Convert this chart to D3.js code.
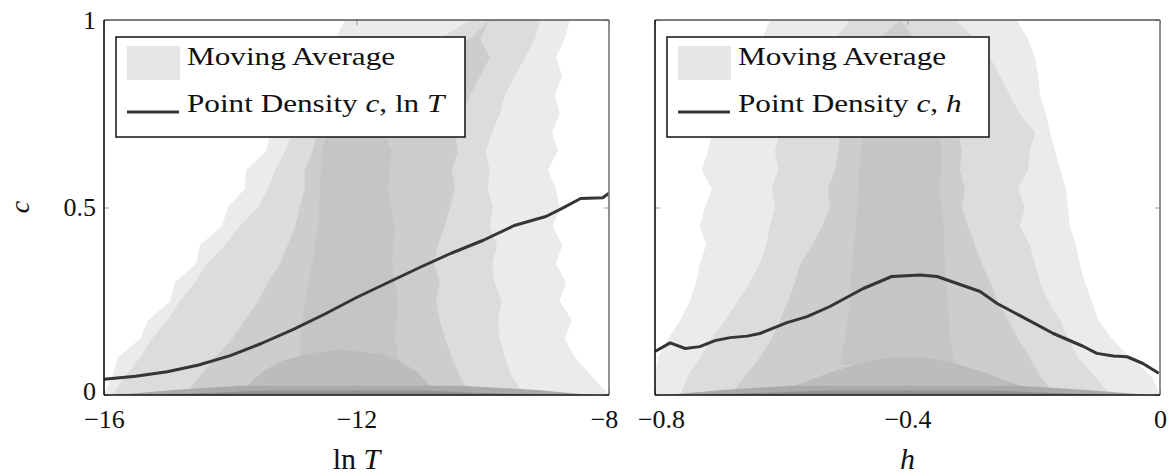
<!DOCTYPE html>
<html>
<head>
<meta charset="utf-8">
<script src="https://cdn.jsdelivr.net/npm/d3@7"></script>
<style>
  body { margin: 0; background: #fff; }
  text { font-family: "Liberation Serif", "Times New Roman", serif; fill: #111; }
</style>
</head>
<body>
<svg id="chart" width="1172" height="476"></svg>
<script>
// ---------------- data ----------------
// shared rows (c values) for the outer density bands
const cRows = [0, 0.05, 0.1, 0.15, 0.2, 0.25, 0.3, 0.35, 0.4, 0.45, 0.5, 0.55, 0.6, 0.65, 0.7, 0.75, 0.8, 0.85, 0.9, 0.95, 1.0];

// ln T panel: band boundaries (ln T) per row
const lnTBand1Lo = [-16.0, -15.87, -15.78, -15.43, -15.30, -14.95, -14.88, -14.54, -14.48, -14.13, -14.04, -13.77, -13.75, -13.43, -13.37, -13.13, -12.97, -12.74, -12.58, -12.34, -12.18];
const lnTBand1Hi = [-8.0, -8.27, -8.54, -8.70, -8.59, -8.78, -8.68, -8.84, -8.74, -8.89, -8.78, -8.84, -8.97, -8.81, -8.90, -8.78, -8.86, -8.74, -8.84, -8.70, -8.62];
const lnTBand2Lo = [-15.87, -15.67, -15.43, -15.24, -14.99, -14.80, -14.56, -14.37, -14.08, -13.85, -13.56, -13.40, -13.29, -13.13, -13.02, -12.74, -12.42, -11.94, -11.31, -10.68, -10.20];
const lnTBand2Hi = [-9.33, -9.54, -9.65, -9.73, -9.76, -9.70, -9.81, -9.85, -9.77, -9.89, -9.84, -9.92, -9.89, -9.95, -9.85, -9.73, -9.65, -9.49, -9.33, -9.17, -9.09];
const lnTBand3Lo = [-14.72, -14.48, -14.24, -13.97, -13.77, -13.56, -13.40, -13.21, -13.09, -12.97, -12.90, -12.82, -12.82, -12.70, -12.61, -12.26, -11.79, -11.31, -10.84, -10.20, -9.89];
const lnTBand3Hi = [-10.20, -10.36, -10.49, -10.60, -10.68, -10.74, -10.68, -10.77, -10.71, -10.60, -10.52, -10.44, -10.49, -10.39, -10.44, -10.33, -10.20, -10.04, -9.89, -10.04, -9.89];
const lnTCoreRows = [0.08, 0.15, 0.25, 0.35, 0.45, 0.55, 0.65, 0.72];
const lnTCoreLo = [-12.90, -12.90, -12.82, -12.70, -12.61, -12.58, -12.55, -12.42];
const lnTCoreHi = [-11.31, -11.39, -11.34, -11.44, -11.39, -11.50, -11.44, -11.63];
const lnTMoundRows = [0, 0.03, 0.06, 0.09, 0.11, 0.12];
const lnTMoundLo = [-13.88, -13.69, -13.50, -13.21, -12.74, -12.37];
const lnTMoundHi = [-10.60, -10.87, -11.03, -11.31, -11.63, -12.18];
const stripRows = [0, 0.013, 0.025];
const stripRowsInner = [0, 0.006, 0.012];
const lnTStripLo = [-15.83, -14.95, -13.85];
const lnTStripHi = [-8.30, -9.09, -10.36];
const lnTStripInnerLo = [-15.27, -14.32, -13.37];
const lnTStripInnerHi = [-9.09, -10.04, -10.99];

// h panel: band boundaries (h) per row
const hBand1Lo = [-0.800, -0.800, -0.795, -0.779, -0.760, -0.745, -0.735, -0.729, -0.719, -0.729, -0.721, -0.710, -0.726, -0.716, -0.710, -0.697, -0.681, -0.665, -0.650, -0.630, -0.618];
const hBand1Hi = [0, -0.013, -0.048, -0.076, -0.098, -0.108, -0.119, -0.127, -0.133, -0.143, -0.146, -0.149, -0.158, -0.166, -0.174, -0.181, -0.190, -0.193, -0.198, -0.209, -0.227];
const hBand2Lo = [-0.760, -0.748, -0.729, -0.710, -0.689, -0.669, -0.650, -0.634, -0.624, -0.618, -0.610, -0.615, -0.605, -0.610, -0.602, -0.586, -0.570, -0.554, -0.539, -0.515, -0.491];
const hBand2Hi = [-0.079, -0.103, -0.130, -0.146, -0.158, -0.177, -0.190, -0.198, -0.206, -0.222, -0.214, -0.225, -0.209, -0.206, -0.198, -0.222, -0.238, -0.253, -0.269, -0.293, -0.325];
const hBand3Lo = [-0.681, -0.657, -0.634, -0.615, -0.602, -0.589, -0.578, -0.570, -0.551, -0.535, -0.523, -0.526, -0.515, -0.510, -0.507, -0.494, -0.483, -0.472, -0.459, -0.444, -0.412];
const hBand3Hi = [-0.166, -0.190, -0.206, -0.225, -0.241, -0.257, -0.269, -0.282, -0.293, -0.304, -0.314, -0.309, -0.317, -0.314, -0.320, -0.333, -0.341, -0.349, -0.364, -0.388, -0.412];
const hCoreRows = [0.08, 0.15, 0.25, 0.35, 0.45, 0.55, 0.65, 0.72];
const hCoreLo = [-0.507, -0.499, -0.491, -0.488, -0.482, -0.478, -0.475, -0.467];
const hCoreHi = [-0.325, -0.333, -0.336, -0.341, -0.342, -0.349, -0.345, -0.356];
const hMoundRows = [0, 0.03, 0.06, 0.085, 0.1];
const hMoundLo = [-0.618, -0.570, -0.523, -0.475, -0.428];
const hMoundHi = [-0.182, -0.230, -0.277, -0.325, -0.372];
const hStripLo = [-0.784, -0.697, -0.586];
const hStripHi = [-0.016, -0.111, -0.222];
const hStripInnerLo = [-0.729, -0.634, -0.523];
const hStripInnerHi = [-0.079, -0.174, -0.269];

// point density curves
const lnTLineX = [-16, -15.5, -15, -14.5, -14, -13.5, -13, -12.5, -12, -11.5, -11, -10.5, -10, -9.5, -9, -8.75, -8.45, -8.1, -8];
const lnTLineC = [0.042, 0.050, 0.062, 0.080, 0.105, 0.138, 0.175, 0.216, 0.260, 0.300, 0.340, 0.378, 0.412, 0.452, 0.476, 0.497, 0.524, 0.526, 0.538];
const hLineX = [-0.800, -0.776, -0.752, -0.729, -0.705, -0.681, -0.654, -0.634, -0.591, -0.559, -0.523, -0.470, -0.425, -0.380, -0.353, -0.285, -0.258, -0.201, -0.169, -0.122, -0.100, -0.074, -0.052, -0.027, -0.002];
const hLineC = [0.116, 0.139, 0.124, 0.129, 0.145, 0.153, 0.157, 0.164, 0.193, 0.209, 0.236, 0.284, 0.316, 0.320, 0.316, 0.276, 0.244, 0.193, 0.164, 0.130, 0.111, 0.104, 0.102, 0.084, 0.058];

// ticks
const lnTTicks = [-16, -12, -8];
const hTicks = [-0.8, -0.4, 0];
const cTicks = [0, 0.5, 1];

// ---------------- drawing ----------------
const svg = d3.select("#chart");
const plotTop = 20, plotBottom = 395;
const shades = { b1: "#ebebeb", b2: "#dcdcdc", b3: "#cdcdcd", core: "#c5c5c5", mound: "#bcbcbc", strip: "#aaaaaa", stripInner: "#929292" };

const y = d3.scaleLinear().domain([0, 1]).range([plotBottom, plotTop]);

function panel(id, left, right, domain, bands, lineX, lineC, ticks, xLabel, legendW, legendParts, showY, nudge) {
  const x = d3.scaleLinear().domain(domain).range([left, right]);
  const g = svg.append("g");
  g.append("clipPath").attr("id", "clip-" + id)
    .append("rect").attr("x", left).attr("y", plotTop).attr("width", right - left).attr("height", plotBottom - plotTop);
  const plot = g.append("g").attr("clip-path", `url(#clip-${id})`);

  // density bands, lightest first
  bands.forEach(b => {
    const area = d3.area()
      .y((d, i) => y(b.rows[i]))
      .x0((d, i) => x(b.lo[i]))
      .x1((d, i) => x(b.hi[i]));
    plot.append("path").attr("d", area(b.rows)).attr("fill", b.fill);
  });

  const line = d3.line().x((d, i) => x(lineX[i])).y((d, i) => y(lineC[i]));
  plot.append("path").attr("d", line(lineX))
    .attr("fill", "none").attr("stroke", "#353535").attr("stroke-width", 3).attr("stroke-linejoin", "round");

  // axes with inward ticks
  const fmt = v => v === 0 ? "0" : d3.format("")(v);
  const xAxis = g.append("g").attr("transform", `translate(0,${plotBottom})`)
    .call(d3.axisBottom(x).tickValues(ticks).tickSize(-5).tickPadding(15).tickFormat(fmt));
  xAxis.select(".domain").remove();
  xAxis.selectAll("line").attr("stroke", "#888");
  xAxis.selectAll("text").attr("font-size", 26).attr("fill", "#111");
  if (nudge) xAxis.selectAll("text").attr("dx", (d) => nudge(d));

  const xTop = g.append("g").attr("transform", `translate(0,${plotTop})`)
    .call(d3.axisTop(x).tickValues(ticks).tickSize(-5).tickFormat(""));
  xTop.select(".domain").remove();
  xTop.selectAll("line").attr("stroke", "#999");

  const yAxis = g.append("g").attr("transform", `translate(${left},0)`)
    .call(d3.axisLeft(y).tickValues(cTicks).tickSize(-5).tickPadding(8).tickFormat(showY ? d3.format("") : ""));
  yAxis.select(".domain").remove();
  yAxis.selectAll("line").attr("stroke", "#999");
  yAxis.selectAll("text").attr("font-size", 26).attr("fill", "#111")
    .attr("dy", d => d === 0 ? "0.18em" : "0.32em");

  const yRight = g.append("g").attr("transform", `translate(${right},0)`)
    .call(d3.axisRight(y).tickValues(cTicks).tickSize(-5).tickFormat(""));
  yRight.select(".domain").remove();
  yRight.selectAll("line").attr("stroke", "#999");

  // frame
  g.append("line").attr("x1", left).attr("x2", right).attr("y1", plotTop).attr("y2", plotTop).attr("stroke", "#555").attr("stroke-width", 1.4);
  g.append("line").attr("x1", right).attr("x2", right).attr("y1", plotTop).attr("y2", plotBottom).attr("stroke", "#777").attr("stroke-width", 1.6);
  g.append("line").attr("x1", left).attr("x2", left).attr("y1", plotTop).attr("y2", plotBottom).attr("stroke", "#111").attr("stroke-width", 1.6);
  g.append("line").attr("x1", left).attr("x2", right).attr("y1", plotBottom).attr("y2", plotBottom).attr("stroke", "#111").attr("stroke-width", 1.6);

  // x label
  const xl = g.append("text").attr("x", (left + right) / 2).attr("y", 469)
    .attr("text-anchor", "middle").attr("font-size", 30);
  xLabel.forEach(p => xl.append("tspan").text(p.t).attr("font-style", p.i ? "italic" : null));

  // legend
  const lx = left + 12, ly = 37;
  const lg = g.append("g");
  lg.append("rect").attr("x", lx).attr("y", ly).attr("width", legendW).attr("height", 100)
    .attr("fill", "#fff").attr("stroke", "#111").attr("stroke-width", 1.5);
  lg.append("rect").attr("x", lx + 11).attr("y", ly + 9).attr("width", 53).attr("height", 34).attr("fill", "#e6e6e6");
  lg.append("line").attr("x1", lx + 11).attr("x2", lx + 63).attr("y1", ly + 75).attr("y2", ly + 75)
    .attr("stroke", "#353535").attr("stroke-width", 3);
  lg.append("text").attr("transform", `translate(${lx + 71},${ly + 28}) scale(1.2,1)`)
    .attr("font-size", 26).text("Moving Average");
  const t2 = lg.append("text").attr("transform", `translate(${lx + 71},${ly + 75}) scale(1.2,1)`)
    .attr("font-size", 26);
  legendParts.forEach(p => t2.append("tspan").text(p.t).attr("font-style", p.i ? "italic" : null));

  return x;
}

const lnTBands = [
  { rows: cRows, lo: lnTBand1Lo, hi: lnTBand1Hi, fill: shades.b1 },
  { rows: cRows, lo: lnTBand2Lo, hi: lnTBand2Hi, fill: shades.b2 },
  { rows: cRows, lo: lnTBand3Lo, hi: lnTBand3Hi, fill: shades.b3 },
  { rows: lnTCoreRows, lo: lnTCoreLo, hi: lnTCoreHi, fill: shades.core },
  { rows: lnTMoundRows, lo: lnTMoundLo, hi: lnTMoundHi, fill: shades.mound },
  { rows: stripRows, lo: lnTStripLo, hi: lnTStripHi, fill: shades.strip },
  { rows: stripRowsInner, lo: lnTStripInnerLo, hi: lnTStripInnerHi, fill: shades.stripInner }
];
const hBands = [
  { rows: cRows, lo: hBand1Lo, hi: hBand1Hi, fill: shades.b1 },
  { rows: cRows, lo: hBand2Lo, hi: hBand2Hi, fill: shades.b2 },
  { rows: cRows, lo: hBand3Lo, hi: hBand3Hi, fill: shades.b3 },
  { rows: hCoreRows, lo: hCoreLo, hi: hCoreHi, fill: shades.core },
  { rows: hMoundRows, lo: hMoundLo, hi: hMoundHi, fill: shades.mound },
  { rows: stripRows, lo: hStripLo, hi: hStripHi, fill: shades.strip },
  { rows: stripRowsInner, lo: hStripInnerLo, hi: hStripInnerHi, fill: shades.stripInner }
];

panel("lnT", 104, 609, [-16, -8], lnTBands, lnTLineX, lnTLineC, lnTTicks,
  [{ t: "ln " }, { t: "T", i: true }], 349,
  [{ t: "Point Density " }, { t: "c", i: true }, { t: ", ln " }, { t: "T", i: true }], true,
  d => d === -8 ? -5 : 0);

panel("h", 655, 1160, [-0.8, 0], hBands, hLineX, hLineC, hTicks,
  [{ t: "h", i: true }], 322,
  [{ t: "Point Density " }, { t: "c", i: true }, { t: ", " }, { t: "h", i: true }], false,
  d => d === -0.8 ? 6 : 0);

// y label
svg.append("text").attr("transform", "translate(29,207) rotate(-90)")
  .attr("text-anchor", "middle").attr("font-size", 28).attr("font-style", "italic").text("c");
</script>
</body>
</html>
